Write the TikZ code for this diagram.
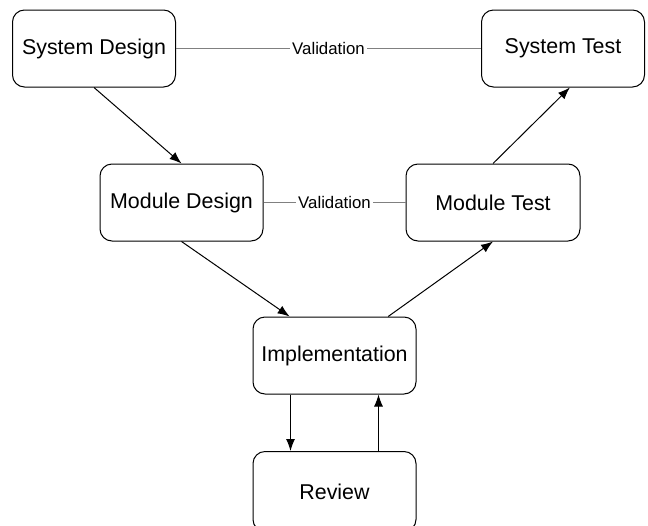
\documentclass[tikz,border=0pt]{standalone}
\usepackage{fontspec}
\setmainfont{Liberation Sans}
\usetikzlibrary{arrows.meta}
\usetikzlibrary{positioning}

\tikzset{
	phase/.style={draw, rounded corners=6pt, line width=0.5pt,
		minimum width=81.5pt, minimum height=38.5pt,
		font=\fontsize{10.7}{13}\selectfont},
	flow/.style={-{Latex[length=6pt,width=4.5pt]}, line width=0.5pt},
	check/.style={draw=gray, line width=0.4pt},
	checklabel/.style={fill=white, inner sep=1pt,
		font=\fontsize{8.4}{10}\selectfont}
}

\begin{document}
\begin{tikzpicture}[x=0.5pt,y=-0.5pt]
	\useasboundingbox (0,0) rectangle (648,525);
	\clip (0,0) rectangle (648,525);
	\path (94,48.5) coordinate(c1)
	(563,48.5) coordinate(c2)
	(181.5,202.5) coordinate(c3)
	(493,202.5) coordinate(c4)
	(334.5,355.5) coordinate(c5)
	(334.5,491.5) coordinate(c6);
	\node[phase] (sysdesign) at (c1) {System Design};
	\node[phase] (systest) at (c2) {System Test};
	\node[phase] (moddesign) at (c3) {Module Design};
	\node[phase, minimum width=87pt] (modtest) at (c4) {Module Test};
	\node[phase] (impl) at (c5) {Implementation};
	\node[phase, minimum height=40pt] (review) at (c6) {Review};
	
	% validation links
	\draw[check] (sysdesign) -- node[checklabel] {Validation} (systest);
	\draw[check] (moddesign) -- node[checklabel] {Validation} (modtest);
	
	\draw[flow] (sysdesign.south) -- (moddesign.north);
	\draw[flow] (moddesign.south) -- (impl.139);
	\draw[flow] (impl.36) -- (modtest.south);
	\draw[flow] (modtest.north) -- (systest.-80);
	\draw[flow] ([xshift=19pt]impl.south west) -- ([xshift=19pt]review.north west);
	\draw[flow] ([xshift=-19pt]review.north east) -- ([xshift=-19pt]impl.south east);
	
\end{tikzpicture}
\end{document}
